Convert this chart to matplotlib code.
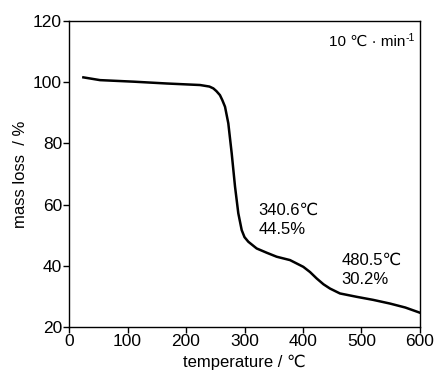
import matplotlib
matplotlib.use("Agg")
import matplotlib.pyplot as plt

plt.rcParams['font.family'] = ['Liberation Sans', 'DejaVu Sans']

temperature = [24.5, 53, 110, 167, 201, 224, 240, 246.7, 252, 258, 262, 266.7, 272.3, 278.1,
               283.8, 289.4, 295.2, 300, 306.5, 320.8, 338, 355, 377.8, 400.5, 412,
               423.4, 435, 446.2, 463.2, 491.8, 520, 548.7, 575, 600]
mass = [101.6, 100.7, 100.2, 99.6, 99.3, 99.1, 98.6, 98.0, 97.1, 95.8, 94.2, 92.0, 86.6, 76.8,
        65.9, 57.2, 51.7, 49.4, 47.9, 45.7, 44.3, 43.0, 41.9, 39.7, 38.0,
        35.9, 34.0, 32.6, 31.0, 29.9, 28.9, 27.7, 26.4, 24.7]

xticks = [0, 100, 200, 300, 400, 500, 600]
yticks = [20, 40, 60, 80, 100, 120]

fig = plt.figure(figsize=(4.37, 3.76), dpi=100)
ax = fig.add_axes([0.158, 0.130, 0.803, 0.814])
ax.plot(temperature, mass, color='black', lw=1.8, solid_joinstyle='round')
ax.set_xlim(0, 600)
ax.set_ylim(20, 120)
ax.set_xticks(xticks)
ax.set_yticks(yticks)
ax.tick_params(direction='out', length=4, width=1, labelsize=12.5, pad=1)
ax.tick_params(top=False, right=False)
for s in ax.spines.values():
    s.set_linewidth(1)
ax.set_xlabel('temperature / ℃', fontsize=12, labelpad=4)
ax.set_ylabel('mass loss  / %', fontsize=12, labelpad=4)

ax.annotate('10 ℃ · min', xy=(0.985, 0.955), xycoords='axes fraction',
            xytext=(-6.5, 0), textcoords='offset points', ha='right', va='top', fontsize=11)
ax.annotate('-1', xy=(0.985, 0.955), xycoords='axes fraction',
            xytext=(0, 1.5), textcoords='offset points', ha='right', va='top', fontsize=7.5)
ax.text(323.7, 55.0, '340.6℃\n44.5%', ha='left', va='center', fontsize=12, linespacing=1.35)
ax.text(466, 38.8, '480.5℃\n30.2%', ha='left', va='center', fontsize=12, linespacing=1.35)

fig.savefig('out.png', dpi=100)
